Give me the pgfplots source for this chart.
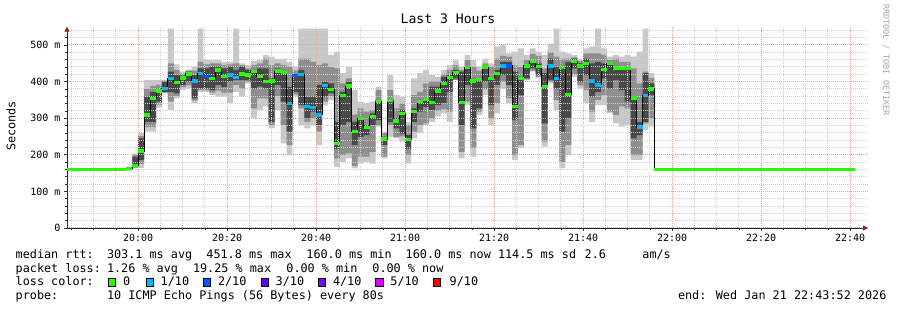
\documentclass[border=0pt]{standalone}
\usepackage{pgfplots}
\pgfplotsset{compat=1.18}
\usepackage{pgfplotstable}
\usepgfplotslibrary{fillbetween}
\usetikzlibrary{arrows.meta}
\usepackage{fontspec}
\setmainfont{DejaVu Sans Mono}
\definecolor{lossg}{HTML}{26FF00}
\definecolor{lossc}{HTML}{00B8FF}
\definecolor{lossb}{HTML}{0059FF}
\definecolor{loss3}{HTML}{5E00FF}
\definecolor{loss4}{HTML}{7E00FF}
\definecolor{loss5}{HTML}{DD00FF}
\definecolor{loss9}{HTML}{FF0000}
\definecolor{smokeL}{HTML}{C8C8C8}
\definecolor{smokeM}{HTML}{8E8E8E}
\definecolor{smokeD}{HTML}{484848}
\definecolor{gridred}{HTML}{F0A0A0}
\definecolor{gridgray}{HTML}{D0D0D0}
\definecolor{arrowred}{HTML}{9B1B1B}

% step index k: 80 s steps, k=0 starts at 20:00
\pgfplotstableread{
k med cls Llo Lhi Mlo Mhi Dlo Dhi
-2 162 g 157 167 158 166 159 165
-1 170 g 163 204 165 199 167 195
0 210 g 164 259 175 252 186 245
1 309 g 263 404 276 380 290 359
2 354 g 263 404 276 388 290 372
3 374 g 329 404 337 392 345 381
4 381 c 368 404 370 402 372 400
5 408 c 323 545 345 450 372 427
6 397 g 354 447 361 432 368 418
7 410 g 377 427 384 422 391 418
8 421 g 381 432 390 430 400 427
9 402 c 341 441 348 430 354 418
10 423 c 372 545 377 454 381 436
11 413 b 372 459 376 447 381 436
12 409 g 363 459 370 450 377 441
13 432 g 359 459 375 450 391 441
14 413 g 359 454 370 445 385 436
15 418 c 341 454 370 447 400 441
16 412 c 372 545 391 450 404 432
17 421 g 359 450 381 445 404 441
18 418 g 395 445 400 436 404 432
19 427 g 300 456 327 445 381 427
20 413 g 323 459 354 450 386 436
21 401 g 332 473 354 463 381 436
22 402 g 272 468 281 445 290 409
23 429 g 323 463 360 450 391 436
24 424 g 231 463 281 445 345 423
25 341 c 199 454 227 441 263 386
26 416 b 359 441 365 430 372 418
27 420 c 281 545 327 463 336 432
28 332 c 272 545 290 463 300 359
29 329 c 281 545 300 454 318 359
30 309 c 227 545 263 445 281 391
31 389 c 336 545 345 450 359 400
32 379 g 349 473 360 440 368 395
33 231 g 167 482 190 436 217 290
34 362 g 181 423 199 395 281 372
35 388 g 190 441 204 409 290 400
36 263 g 163 377 170 310 227 290
37 300 g 176 345 195 327 249 295
38 275 g 181 341 195 318 254 281
39 304 g 176 345 208 322 281 313
40 346 g 277 386 281 377 295 350
41 243 g 190 263 195 259 227 249
42 349 g 249 418 281 377 290 350
43 292 g 245 363 249 327 272 300
44 313 g 236 359 250 340 258 323
45 242 g 176 290 199 281 217 254
46 318 g 245 409 263 363 290 327
47 345 g 259 423 281 372 318 350
48 352 g 281 432 286 395 331 354
49 343 g 290 418 300 400 323 386
50 374 g 304 413 320 400 336 386
51 395 g 313 432 325 420 341 413
52 412 g 290 445 318 432 372 418
53 425 g 404 459 405 445 409 432
54 342 g 190 441 208 432 281 427
55 438 g 336 473 345 459 391 436
56 402 g 195 459 218 441 272 404
57 405 g 309 441 318 430 327 404
58 440 g 363 463 380 450 400 441
59 409 g 281 450 300 441 336 413
60 423 g 313 496 341 463 391 432
61 443 c 381 500 400 470 418 454
62 443 b 341 477 354 468 391 454
63 332 g 186 482 199 445 295 427
64 409 g 218 491 227 441 363 413
65 443 g 404 473 406 460 409 445
66 454 g 427 491 430 475 436 459
67 442 g 409 482 413 470 418 450
68 386 g 222 473 236 436 286 423
69 443 c 395 504 400 480 404 463
70 409 c 323 545 350 468 381 441
71 438 g 163 482 181 463 263 436
72 364 g 199 477 227 463 300 454
73 454 g 413 473 420 466 436 463
74 443 g 381 463 390 456 400 450
75 450 g 341 491 377 477 418 463
76 402 c 290 496 318 477 359 450
77 391 c 336 545 350 477 372 454
78 433 g 336 491 363 473 409 450
79 449 g 313 468 318 459 381 445
80 437 g 286 473 309 463 404 441
81 436 g 277 468 332 454 377 436
82 435 g 281 473 327 454 345 436
83 355 g 186 468 199 436 245 354
84 276 c 186 482 199 395 254 290
85 362 c 268 545 286 427 290 423
86 380 g 277 423 300 410 363 395
87 160 g 277 423 300 410 363 395
}\smoke

\begin{document}
\begin{tikzpicture}
\tikzset{fill between/on layer=axis background}
\begin{axis}[
  set layers,
  at={(67pt,82pt)}, anchor=south west,
  scale only axis, width=801pt, height=201.3pt,
  xmin=-12, xmax=123, ymin=0, ymax=550,
  axis lines=left,
  axis line style={black!85, line width=0.8pt, -{Triangle[length=5pt,width=5pt,color=arrowred]}},
  grid=both,
  major grid style={dash pattern=on 1pt off 1pt, color=gridred, line width=1pt},
  minor grid style={dash pattern=on 1pt off 1pt, color=gridgray, line width=1pt},
  xtick={0,15,...,120},
  xticklabels={20:00,20:20,20:40,21:00,21:20,21:40,22:00,22:20,22:40},
  minor xtick={-11.25,-7.5,-3.75,3.75,7.5,11.25,18.75,22.5,26.25,33.75,37.5,41.25,48.75,52.5,56.25,63.75,67.5,71.25,78.75,82.5,86.25,93.75,97.5,101.25,108.75,112.5,116.25},
  ytick={0,100,...,500},
  yticklabels={0,100 m,200 m,300 m,400 m,500 m},
  minor ytick={20,40,60,80,120,140,160,180,220,240,260,280,320,340,360,380,420,440,460,480,520,540},
  tick align=outside, major tick length=3pt, minor tick length=2pt,
  tick style={black!80, line width=0.6pt},
  ticklabel style={font=\fontsize{10pt}{12pt}\selectfont},
]
% smoke bands
\addplot[draw=none, name path=Lhi, const plot, forget plot] table[x=k, y=Lhi] {\smoke};
\addplot[draw=none, name path=Llo, const plot, forget plot] table[x=k, y=Llo] {\smoke};
\addplot[fill=smokeL, draw=none, forget plot] fill between[of=Lhi and Llo];
\addplot[draw=none, name path=Mhi, const plot, forget plot] table[x=k, y=Mhi] {\smoke};
\addplot[draw=none, name path=Mlo, const plot, forget plot] table[x=k, y=Mlo] {\smoke};
\addplot[fill=smokeM, draw=none, forget plot] fill between[of=Mhi and Mlo];
\addplot[draw=none, name path=Dhi, const plot, forget plot] table[x=k, y=Dhi] {\smoke};
\addplot[draw=none, name path=Dlo, const plot, forget plot] table[x=k, y=Dlo] {\smoke};
\addplot[fill=smokeD, draw=none, forget plot] fill between[of=Dhi and Dlo];
% median line
\addplot[const plot, black, line width=0.9pt, forget plot] table[x=k, y=med] {\smoke};
% flat segments
\addplot[lossg, line width=3.3pt, forget plot] coordinates {(-12,160) (-2,160)};
\addplot[lossg, line width=3.3pt, forget plot] coordinates {(87,160) (120.85,160)};
% loss-coloured median marks
\addplot[scatter, only marks, mark=-, mark size=2.97pt,
  scatter src=explicit symbolic,
  scatter/classes={g={color=lossg}, c={color=lossc}, b={color=lossb}},
  mark options={line width=3.3pt},
  skip coords between index={89}{90}, forget plot]
  table[x expr=\thisrow{k}+0.5, y=med, meta=cls] {\smoke};
\end{axis}
% title, labels
\node[font=\fontsize{13.1pt}{15pt}\selectfont] at (448pt,291pt) {Last 3 Hours};
\node[rotate=90, font=\fontsize{11.8pt}{14pt}\selectfont] at (11pt,184pt) {Seconds};
\node[rotate=-90, anchor=west, inner sep=0pt, font=\fontsize{8.4pt}{10pt}\selectfont, text=black!35] at (886pt,306pt) {RRDTOOL / TOBI OETIKER};
% legend
\begin{scope}[every node/.style={anchor=base west, inner sep=0pt, font=\fontsize{11.8pt}{14pt}\selectfont}]
\node at (15.5pt,51pt) {median rtt:};
\node at (106.8pt,51pt) {303.1 ms avg};
\node at (206.2pt,51pt) {451.8 ms max};
\node at (306.2pt,51pt) {160.0 ms min};
\node at (405.5pt,51pt) {160.0 ms now};
\node at (497.8pt,51pt) {114.5 ms sd};
\node at (584.5pt,51pt) {2.6};
\node at (642.2pt,51pt) {am/s};
\node at (15.5pt,37.5pt) {packet loss:};
\node at (106.8pt,37.5pt) {1.26 \% avg};
\node at (192.8pt,37.5pt) {19.25 \% max};
\node at (286.2pt,37.5pt) {0.00 \% min};
\node at (372.2pt,37.5pt) {0.00 \% now};
\node at (15.5pt,24pt) {loss color:};
\node at (122.8pt,24pt) {0};
\node at (160.5pt,24pt) {1/10};
\node at (217.8pt,24pt) {2/10};
\node at (275.5pt,24pt) {3/10};
\node at (332.8pt,24pt) {4/10};
\node at (390.2pt,24pt) {5/10};
\node at (449.5pt,24pt) {9/10};
\node at (15.5pt,10.3pt) {probe:};
\node at (106.8pt,10.3pt) {10 ICMP Echo Pings (56 Bytes) every 80s};
\node at (677.8pt,10.3pt) {end: Wed Jan 21 22:43:52 2026};
\end{scope}
\foreach \xx/\cc in {108.3/lossg,146/lossc,203.3/lossb,261/loss3,318.3/loss4,375.7/loss5,433.3/loss9}{
  \draw[fill=\cc, draw=black, line width=0.6pt] (\xx pt,24pt) rectangle ++(7.3pt,7.3pt);
}
\path (0pt,0pt) rectangle (897pt,310pt);
\end{tikzpicture}
\end{document}
